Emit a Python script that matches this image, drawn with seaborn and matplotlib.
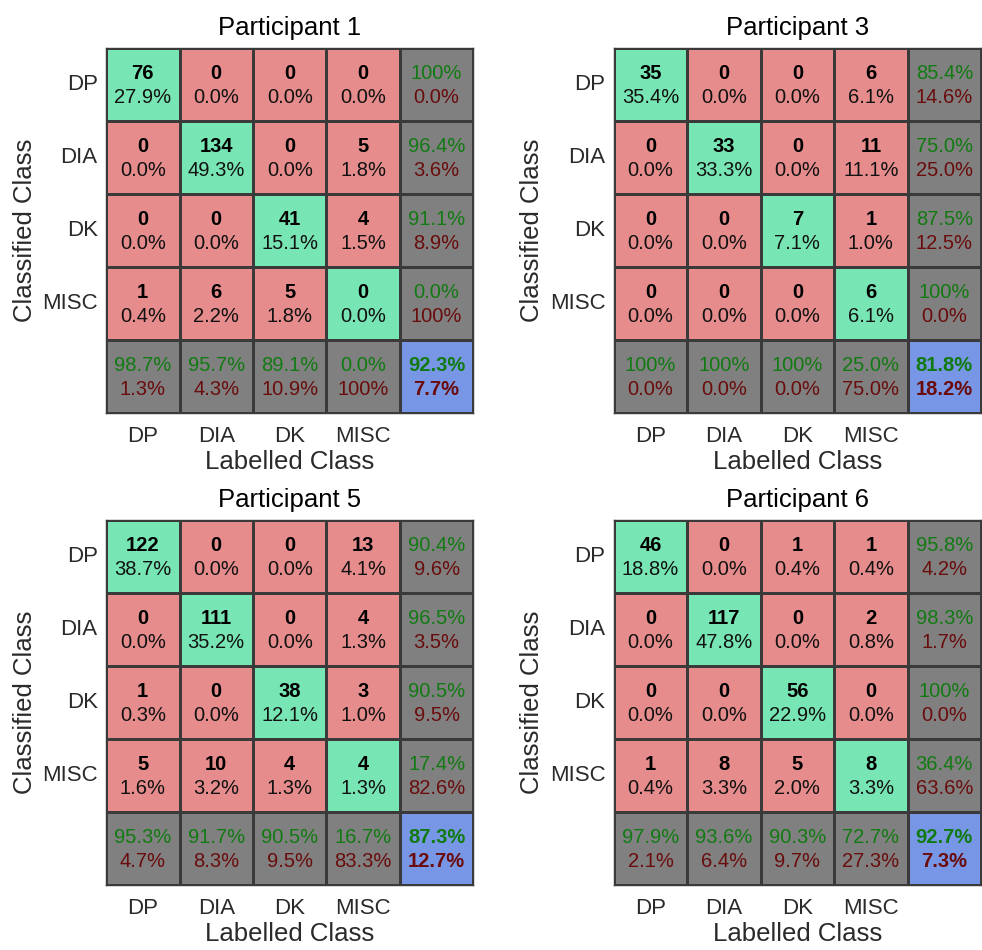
import numpy as np
import pandas as pd
import matplotlib
matplotlib.use("Agg")
import matplotlib.pyplot as plt
from matplotlib.colors import ListedColormap
import seaborn as sns

# Class names (rows = classified, columns = labelled)
classes = ["DP", "DIA", "DK", "MISC"]
titles = ["Participant 1", "Participant 3", "Participant 5", "Participant 6"]

# Confusion counts
p1 = [[76, 0, 0, 0],
      [0, 134, 0, 5],
      [0, 0, 41, 4],
      [1, 6, 5, 0]]
p3 = [[35, 0, 0, 6],
      [0, 33, 0, 11],
      [0, 0, 7, 1],
      [0, 0, 0, 6]]
p5 = [[122, 0, 0, 13],
      [0, 111, 0, 4],
      [1, 0, 38, 3],
      [5, 10, 4, 4]]
p6 = [[46, 0, 1, 1],
      [0, 117, 0, 2],
      [0, 0, 56, 0],
      [1, 8, 5, 8]]
matrices = [p1, p3, p5, p6]

# MATLAB plotconfusion style colours
cell_colors = ["#E68C8C", "#78E6B4", "#808080", "#7896E6"]
good_color = "#127a12"
bad_color = "#6a0c0c"

sns.set_style("white")
plt.rcParams["font.family"] = ["Liberation Sans", "DejaVu Sans"]


def fmt(v):
    if round(v, 1) == 100:
        return "100%"
    return "%.1f%%" % v


fig = plt.figure(figsize=(9.82, 9.5), dpi=100)
positions = [[0.108, 0.565, 0.374, 0.385],
             [0.625, 0.565, 0.374, 0.385],
             [0.108, 0.068, 0.374, 0.385],
             [0.625, 0.068, 0.374, 0.385]]
fs = 14.5

for k in range(4):
    cm = np.array(matrices[k], dtype=float)
    n = len(classes)
    total = cm.sum()

    # colour codes: 0 off-diagonal, 1 diagonal, 2 margin, 3 corner
    codes = np.zeros((n + 1, n + 1))
    for i in range(n):
        codes[i, i] = 1
    codes[n, :] = 2
    codes[:, n] = 2
    codes[n, n] = 3
    df = pd.DataFrame(codes, index=classes + [""], columns=classes + [""])

    ax = fig.add_axes(positions[k])
    sns.heatmap(df, ax=ax, cmap=ListedColormap(cell_colors), vmin=-0.5, vmax=3.5,
                cbar=False, linewidths=1, linecolor="#3a3a3a", square=False)
    for s in ax.spines.values():
        s.set_visible(True)
        s.set_color("#3a3a3a")
        s.set_linewidth(1)

    for i in range(n):
        for j in range(n):
            ax.text(j + 0.5, i + 0.35, "%d" % cm[i, j], ha="center", va="center",
                    fontsize=fs, fontweight="bold", color="black")
            ax.text(j + 0.5, i + 0.68, fmt(100 * cm[i, j] / total), ha="center",
                    va="center", fontsize=fs, color="#111111")
        # row margin (precision)
        rs = cm[i].sum()
        prec = 100 * cm[i, i] / rs if rs > 0 else 0
        ax.text(n + 0.5, i + 0.35, fmt(prec), ha="center", va="center",
                fontsize=fs, color=good_color)
        ax.text(n + 0.5, i + 0.68, fmt(100 - prec), ha="center", va="center",
                fontsize=fs, color=bad_color)
        # column margin (recall)
        cs = cm[:, i].sum()
        rec = 100 * cm[i, i] / cs if cs > 0 else 0
        ax.text(i + 0.5, n + 0.35, fmt(rec), ha="center", va="center",
                fontsize=fs, color=good_color)
        ax.text(i + 0.5, n + 0.68, fmt(100 - rec), ha="center", va="center",
                fontsize=fs, color=bad_color)
    acc = 100 * np.trace(cm) / total
    ax.text(n + 0.5, n + 0.35, fmt(acc), ha="center", va="center",
            fontsize=fs, fontweight="bold", color=good_color)
    ax.text(n + 0.5, n + 0.68, fmt(100 - acc), ha="center", va="center",
            fontsize=fs, fontweight="bold", color=bad_color)

    ax.tick_params(axis="both", length=0, labelsize=16, colors="#2a2a2a")
    ax.set_yticklabels(classes + [""], rotation=0)
    ax.set_xticklabels(classes + [""], rotation=0)
    ax.tick_params(axis="x", pad=9)
    ax.tick_params(axis="y", pad=6)
    ax.set_xlabel("Labelled Class", fontsize=18.5, color="#2a2a2a", labelpad=2)
    ax.set_ylabel("Classified Class", fontsize=18.5, color="#2a2a2a", labelpad=4)
    ax.set_title(titles[k], fontsize=18.5, color="black", pad=9)

fig.savefig("out.png", dpi=100)
